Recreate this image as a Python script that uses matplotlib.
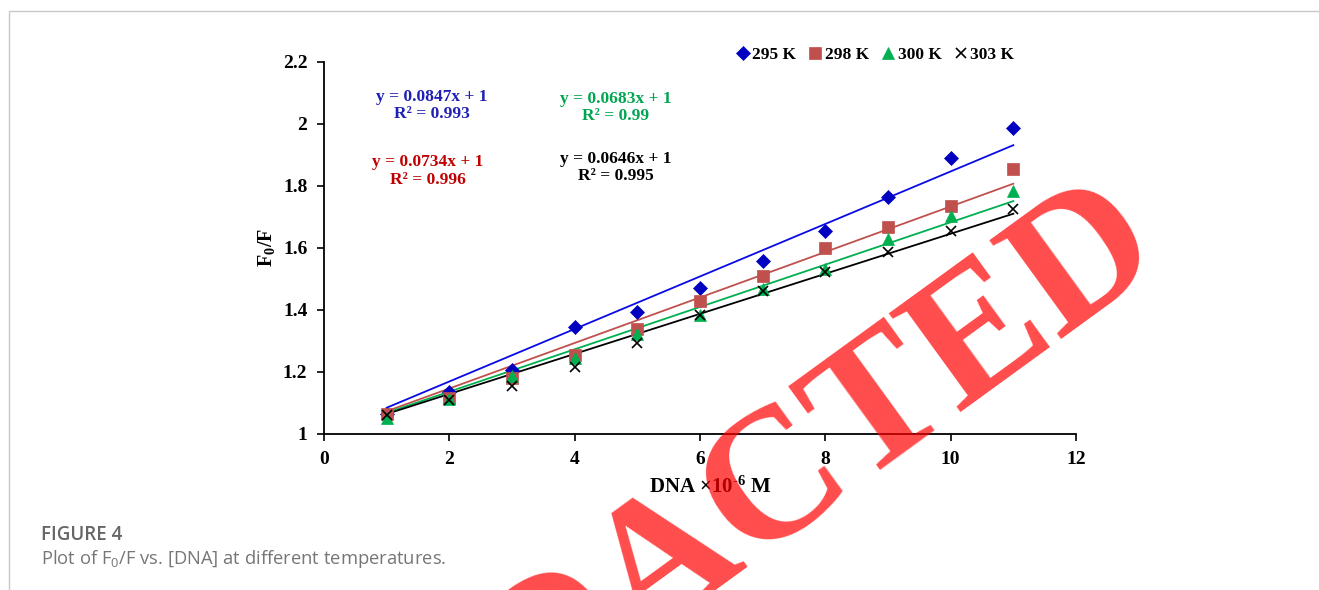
import numpy as np
import matplotlib
matplotlib.use('Agg')
import matplotlib.pyplot as plt
from matplotlib.patches import Rectangle

# Data
dna = [1, 2, 3, 4, 5, 6, 7, 8, 9, 10, 11]
f295 = [1.065, 1.135, 1.205, 1.345, 1.394, 1.471, 1.558, 1.654, 1.765, 1.891, 1.987]
f298 = [1.065, 1.115, 1.180, 1.256, 1.339, 1.430, 1.511, 1.599, 1.668, 1.736, 1.854]
f300 = [1.051, 1.112, 1.186, 1.245, 1.322, 1.385, 1.468, 1.533, 1.630, 1.703, 1.784]
f303 = [1.061, 1.110, 1.156, 1.215, 1.293, 1.385, 1.460, 1.522, 1.587, 1.655, 1.727]

labels = ['295 K', '298 K', '300 K', '303 K']
slopes = [0.0847, 0.0734, 0.0683, 0.0646]
r2 = ['0.993', '0.996', '0.99', '0.995']

W, H = 1319, 590
serif = 'Liberation Serif'

fig = plt.figure(figsize=(W / 100, H / 100), dpi=100)
fig.patch.set_facecolor('white')
ax = fig.add_axes([324 / W, 1 - 434 / H, (1076 - 324) / W, (434 - 62) / H])

series = [f295, f298, f300, f303]
mk_col = ['#0000C0', '#C0504D', '#00B050', 'black']
ln_col = ['#0A0AE6', '#C0504D', '#00B050', 'black']
mk = ['D', 's', '^', 'x']
ms = [7, 8, 8, 7]

handles = []
x = np.array(dna, dtype=float)
for ys, c, lc, m, s, k, lab in zip(series, mk_col, ln_col, mk, ms, slopes, labels):
    h, = ax.plot(dna, ys, ls='none', marker=m, markersize=s, color=c,
                 markeredgewidth=1.2 if m == 'x' else 0.5, label=lab, zorder=3)
    handles.append(h)
    # linear trendline with intercept fixed to 1
    ax.plot(x, k * x + 1, color=lc, lw=1.3, zorder=2)

ax.set_xlim(0, 12)
ax.set_ylim(1, 2.2)
ax.set_xticks(range(0, 13, 2))
ax.set_yticks([1, 1.2, 1.4, 1.6, 1.8, 2, 2.2])
ax.set_yticklabels(['1', '1.2', '1.4', '1.6', '1.8', '2', '2.2'])
for sp in ['top', 'right']:
    ax.spines[sp].set_visible(False)
for sp in ['left', 'bottom']:
    ax.spines[sp].set_linewidth(1.3)
ax.tick_params(direction='out', length=5, width=1.2, pad=7, labelsize=14)
for t in ax.get_xticklabels() + ax.get_yticklabels():
    t.set_fontfamily(serif)
    t.set_fontweight('bold')

ax.set_xlabel('DNA ×$\\mathregular{10^{\u2010 6}}$ M', fontsize=15, fontweight='bold',
              fontfamily=serif)
ax.xaxis.set_label_coords((710 - 324) / 752, -(498 - 434) / 372)
ax.xaxis.label.set_va('bottom')
ax.set_ylabel(r'$\mathregular{F_0}$/F', fontsize=14.5, fontweight='bold',
              fontfamily=serif, labelpad=4)

# legend
fig.legend(handles=handles, loc='center', bbox_to_anchor=(876 / W, 1 - 55 / H),
           ncol=4, frameon=False, handlelength=0.6, handletextpad=0.25,
           columnspacing=0.8, prop={'family': serif, 'weight': 'bold', 'size': 12.5})

# trendline equations
eq_pos = [(432, 105.5), (428, 171), (616, 107.5), (616, 167.5)]
eq_col = ['#1F1FB4', '#C00000', '#00A550', 'black']
for (px, py), k, r, c in zip(eq_pos, slopes, r2, eq_col):
    fig.text(px / W, 1 - py / H, 'y = %sx + 1\nR² = %s' % (k, r), ha='center', va='center',
             multialignment='center', color=c, fontsize=12.5, fontweight='bold',
             fontfamily=serif, linespacing=1.1)

# page frame
fig.add_artist(Rectangle((9 / W, -0.1), 1.2, 1.1 - 11 / H, transform=fig.transFigure,
                         fill=False, edgecolor='#C8C8C8', lw=1.0))

# caption
fig.text(41 / W, 1 - 535 / H, 'FIGURE 4', ha='left', va='center', fontsize=13.5,
         fontweight='semibold', color='#666666', fontfamily='Open Sans')
fig.text(41 / W, 1 - 559 / H, r'Plot of $\mathregular{F_0}$/F vs. [DNA] at different temperatures.',
         ha='left', va='center', fontsize=13.2, color='#767676', fontfamily='Open Sans')

# watermark
fig.text(719 / W, 1 - 530 / H, 'REDACTED', rotation=36, rotation_mode='anchor',
         ha='center', va='center', fontsize=134, fontweight='bold', fontfamily=serif,
         color='red', alpha=0.7, zorder=10)

fig.savefig('out.png', dpi=100)
